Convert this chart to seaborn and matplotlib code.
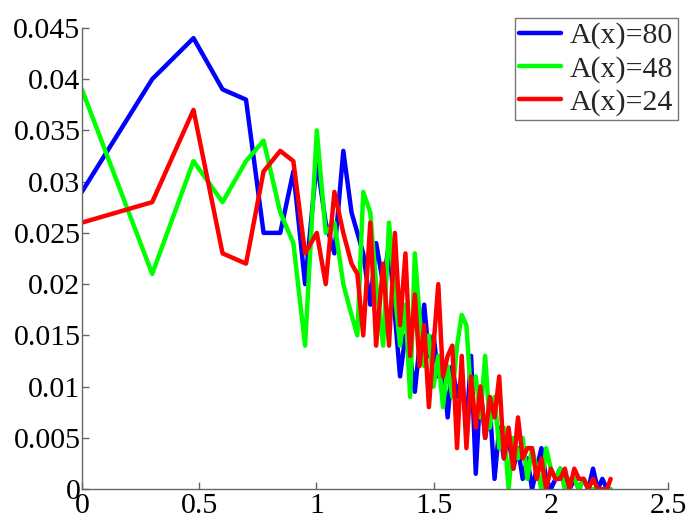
import pandas as pd
import seaborn as sns
import matplotlib
matplotlib.use("Agg")
import matplotlib.pyplot as plt

# shared bin positions
x_vals = [0, 0.30, 0.476, 0.60, 0.70, 0.775, 0.846, 0.902, 0.952,
          1.002, 1.04, 1.077, 1.115, 1.15, 1.175, 1.20, 1.23, 1.255, 1.285,
          1.31, 1.335, 1.357, 1.38,
          1.40, 1.42, 1.44, 1.46, 1.48, 1.50, 1.52, 1.54, 1.56, 1.58, 1.60,
          1.62, 1.64, 1.66, 1.68, 1.70, 1.72, 1.74, 1.76, 1.78, 1.80, 1.82,
          1.84, 1.86, 1.88, 1.90, 1.92, 1.94, 1.96, 1.98, 2.00, 2.02, 2.04,
          2.06, 2.08, 2.10, 2.12, 2.14, 2.16, 2.18, 2.20, 2.22, 2.24, 2.255]

# values in units of 1e-3
a80 = [29, 40, 44, 39, 38, 25, 25, 31, 20,
       32, 26, 23, 33, 27, 25, 23, 18, 24, 20,
       24, 17, 11, 15,
       13, 9.5, 14, 18, 13, 15, 11, 12, 7, 12, 9,
       11, 6, 13, 1.5, 10, 5, 8, 1, 6, 3, 5,
       2, 4, 1, 3, 0, 2, 4, 1, 0, 1, 2,
       1, 0, 1, 0, 1, 0, 2, 0, 1, 0, 0]
a48 = [39, 21, 32, 28, 32, 34, 27, 24, 14,
       35, 25, 26, 20, 17, 15, 29, 27, 20, 14,
       26, 19, 14, 18,
       9, 23, 17, 12, 15, 10, 13, 8, 12, 9, 14,
       17, 16, 9, 11, 7, 13, 6, 9, 4, 6, 0,
       5, 3, 5, 1, 4, 2, 0, 4, 2, 1, 2,
       0, 1, 1, 0, 1, 0, 0, 0, 0, 0, 0]
a24 = [26, 28, 37, 23, 22, 31, 33, 32, 23,
       25, 20, 29, 25, 22, 21, 15, 26, 14, 22,
       14, 25, 16, 23,
       13, 19, 12, 16, 8, 14, 20, 11, 13, 14, 4,
       13, 4, 11, 6, 10, 5, 9, 7, 11, 3, 6,
       2, 7, 3, 4, 4, 1, 3, 0, 2, 1, 1,
       2, 0, 2, 1, 1, 0, 1, 0, 0, 0, 1]

labels = ["A(x)=80", "A(x)=48", "A(x)=24"]
colors = ["#0000ff", "#00ff00", "#ff0000"]

sns.set_style("ticks")
plt.rcParams['font.family'] = ['Liberation Serif', 'DejaVu Serif']

fig = plt.figure(figsize=(6.88, 5.16), dpi=100)
ax = fig.add_axes([0.119, 0.052, 0.852, 0.894])

for vals, lab, col in zip([a80, a48, a24], labels, colors):
    df = pd.DataFrame({"x": x_vals, "y": [v * 1e-3 for v in vals]})
    sns.lineplot(data=df, x="x", y="y", ax=ax, color=col, linewidth=3.2,
                 label=lab, sort=False)

ax.set_xlim(0, 2.5)
ax.set_ylim(0, 0.045)
ax.set_xticks([0, 0.5, 1, 1.5, 2, 2.5])
ax.set_xticklabels(["0", "0.5", "1", "1.5", "2", "2.5"])
ax.set_yticks([0, 0.005, 0.01, 0.015, 0.02, 0.025, 0.03, 0.035, 0.04, 0.045])
ax.set_yticklabels(["0", "0.005", "0.01", "0.015", "0.02", "0.025", "0.03",
                    "0.035", "0.04", "0.045"])
ax.set_xlabel("")
ax.set_ylabel("")
sns.despine(ax=ax)
for s in ["left", "bottom"]:
    ax.spines[s].set_color("#666666")
    ax.spines[s].set_linewidth(1)
ax.tick_params(direction="in", length=5, width=1, color="#666666",
               labelsize=21.5, labelcolor="black")
ax.tick_params(axis="y", pad=1)
ax.tick_params(axis="x", pad=3)

leg = ax.legend(loc="upper right", bbox_to_anchor=(1.017, 1.022),
                borderaxespad=0, fontsize=21.5, handlelength=1.4,
                handletextpad=0.3, labelspacing=0.2, borderpad=0.15,
                fancybox=False, framealpha=1, edgecolor="#777777")
leg.get_frame().set_linewidth(1)

fig.savefig("out.png", dpi=100)
